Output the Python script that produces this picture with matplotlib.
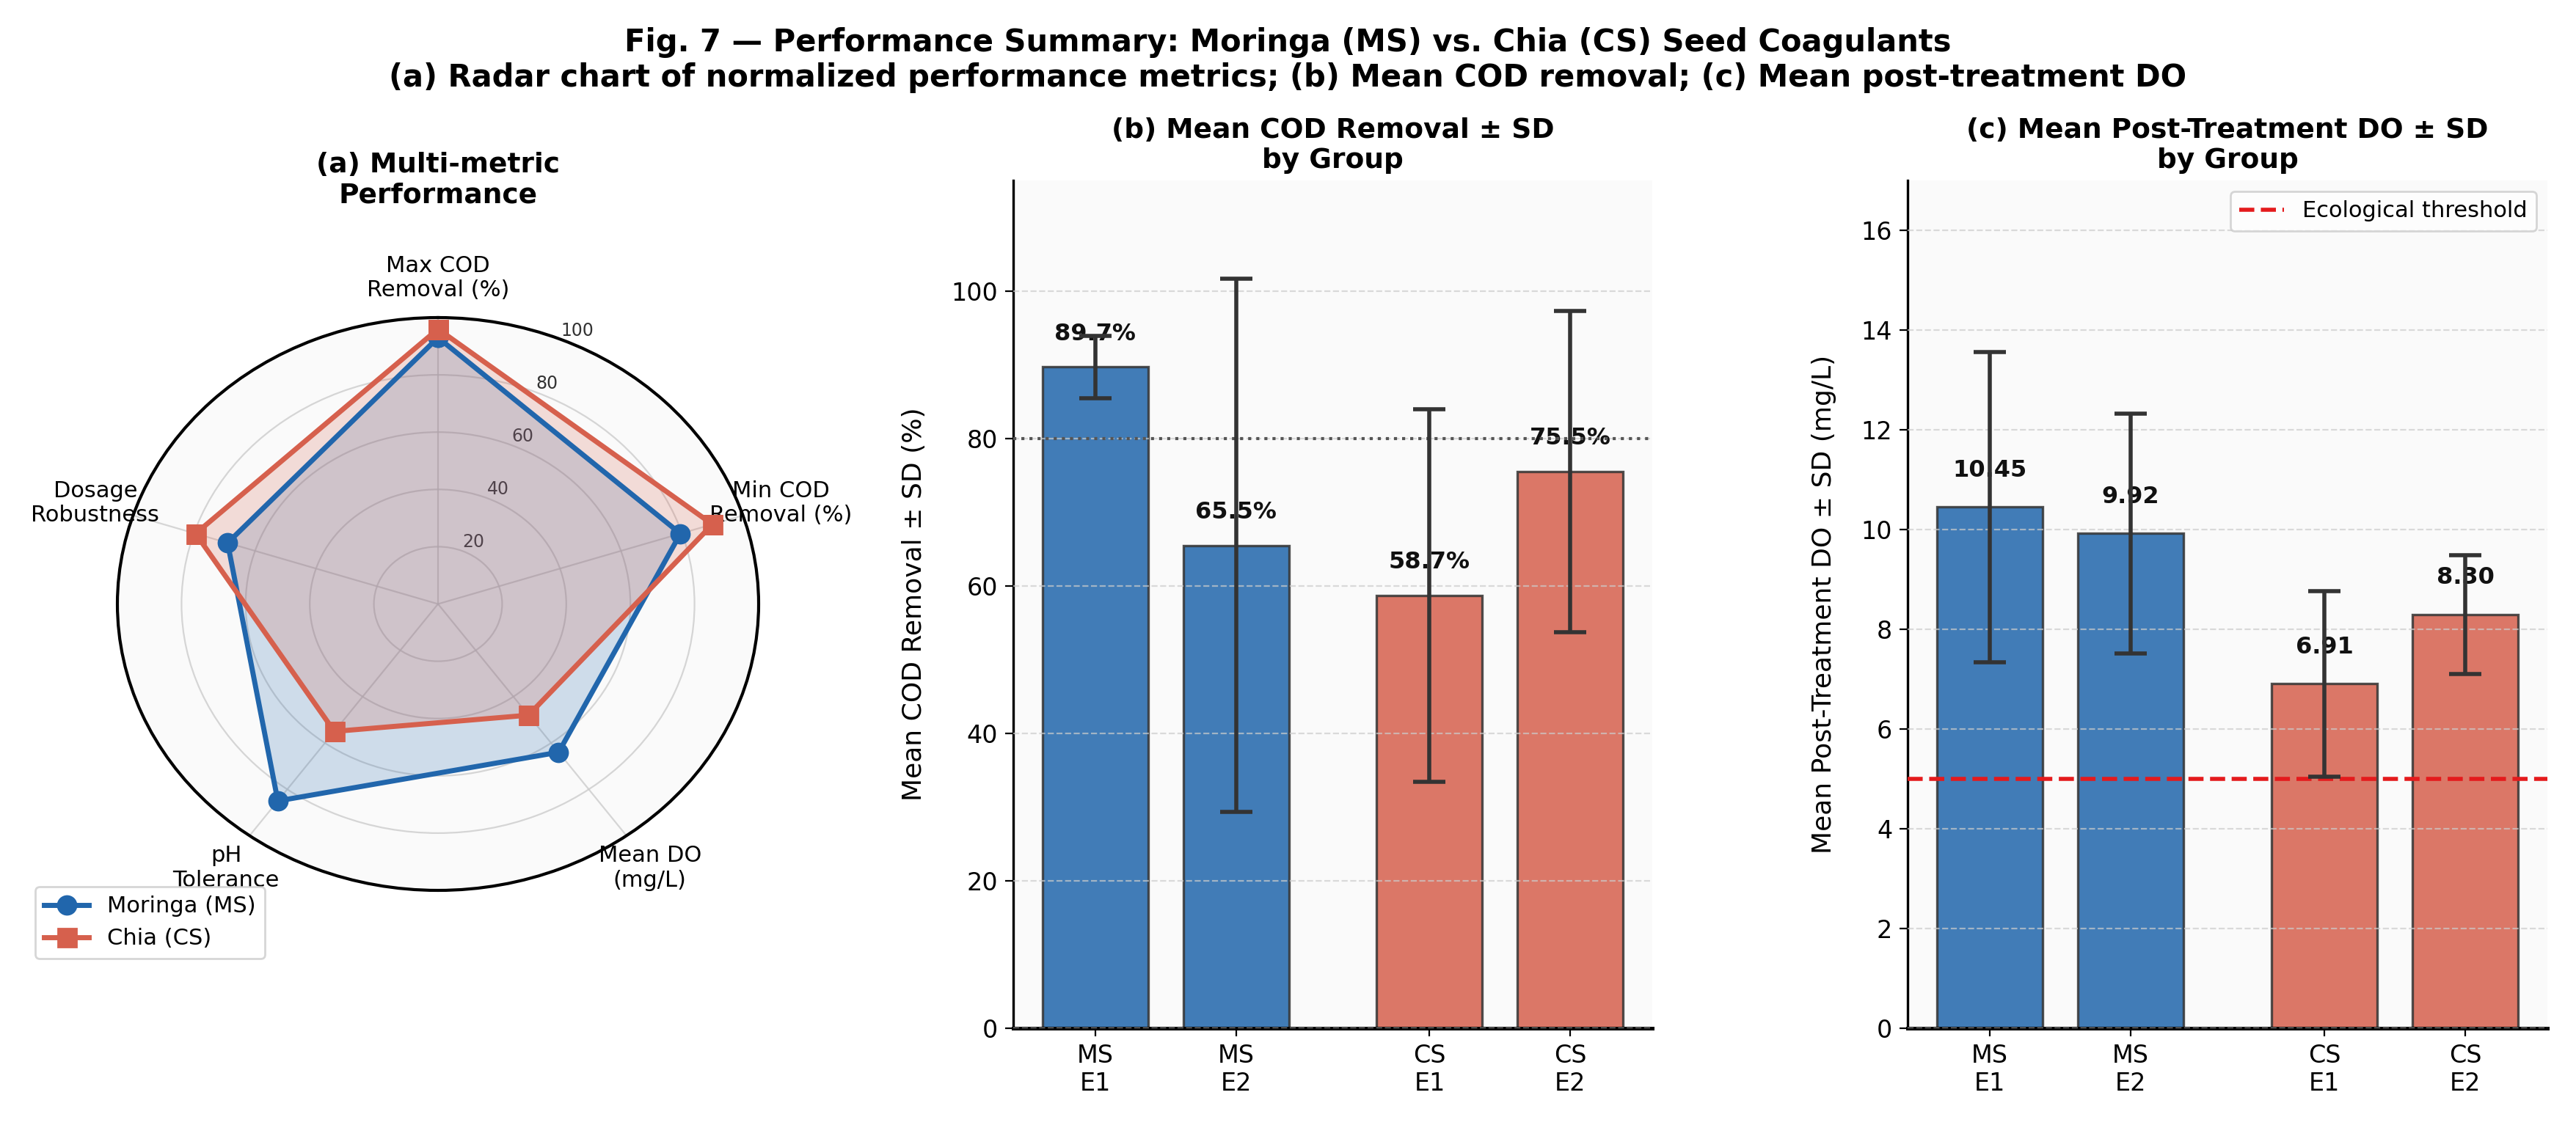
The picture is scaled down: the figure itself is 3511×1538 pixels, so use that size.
import matplotlib
matplotlib.use('Agg')
import matplotlib.pyplot as plt
import numpy as np

plt.rcParams['font.family'] = ['DejaVu Sans']

# ---------------- data ----------------
radar_metrics = ['Max COD\nRemoval (%)', 'Min COD\nRemoval (%)', 'Mean DO\n(mg/L)',
                 'pH\nTolerance', 'Dosage\nRobustness']
ms_scores = [93, 79.5, 64, 85, 69]
cs_scores = [96, 90, 48, 55, 79.5]
radar_rticks = [20, 40, 60, 80, 100]

groups = ['MS\nE1', 'MS\nE2', 'CS\nE1', 'CS\nE2']
group_pos = [0, 0.8, 1.9, 2.7]
cod_mean = [89.7, 65.5, 58.7, 75.5]
cod_sd = [4.2, 36.2, 25.3, 21.8]
do_mean = [10.45, 9.92, 6.91, 8.30]
do_sd = [3.11, 2.41, 1.86, 1.19]
cod_ref = 80
do_threshold = 5

BLUE = '#2166ac'
RED = '#d6604d'
bar_colors = [BLUE, BLUE, RED, RED]

# ---------------- figure ----------------
W, H = 3511, 1538
DPI = 200
fig = plt.figure(figsize=(W / DPI, H / DPI), dpi=DPI)
fig.patch.set_facecolor('white')

fig.suptitle('Fig. 7 — Performance Summary: Moringa (MS) vs. Chia (CS) Seed Coagulants\n'
             '(a) Radar chart of normalized performance metrics; (b) Mean COD removal; '
             '(c) Mean post-treatment DO',
             fontsize=15, fontweight='bold', y=1 - 82 / H, va='center')

# ---------------- (a) radar ----------------
axr = fig.add_axes([160 / W, 1 - 1214 / H, 874 / W, 781 / H], projection='polar')
axr.set_aspect('auto')
axr.set_theta_offset(np.pi / 2)
axr.set_theta_direction(-1)
axr.set_facecolor('#fafafa')
angles = np.linspace(0, 2 * np.pi, len(radar_metrics), endpoint=False)
closed = np.concatenate([angles, angles[:1]])
for vals, color, marker, label in [(ms_scores, BLUE, 'o', 'Moringa (MS)'),
                                   (cs_scores, RED, 's', 'Chia (CS)')]:
    v = list(vals) + [vals[0]]
    axr.plot(closed, v, color=color, lw=2.5, marker=marker, ms=9, label=label, zorder=3)
    axr.fill(closed, v, color=color, alpha=0.2, zorder=2)
axr.set_xticks(angles)
axr.set_xticklabels(radar_metrics, fontsize=11)
axr.tick_params(axis='x', pad=9)
axr.set_ylim(0, 100)
axr.set_yticks(radar_rticks)
axr.set_yticklabels([str(t) for t in radar_rticks], fontsize=8.5, color='#333333')
axr.grid(color='#cccccc', lw=0.8, alpha=0.8)
axr.spines['polar'].set_linewidth(1.5)
axr.set_title('(a) Multi-metric\nPerformance', fontsize=13.5, fontweight='bold', y=1.2, pad=0)
axr.legend(loc='upper left', bbox_to_anchor=(48 / W, 1 - 1209 / H),
           bbox_transform=fig.transFigure, borderaxespad=0, fontsize=11)


def bar_panel(ax, means, sds, offset, fmt):
    ax.set_facecolor('#fafafa')
    ax.bar(group_pos, means, width=0.6, color=bar_colors, alpha=0.85,
           edgecolor='#333333', linewidth=1.2, zorder=2)
    ax.errorbar(group_pos, means, yerr=sds, fmt='none', ecolor='#333333',
                elinewidth=2, capsize=8, capthick=2, zorder=4)
    for x, m in zip(group_pos, means):
        ax.text(x, m + offset, fmt.format(m), ha='center', va='center',
                fontsize=11.5, fontweight='bold', color='#111111', zorder=3)
    ax.set_xticks(group_pos)
    ax.set_xticklabels(groups)
    ax.tick_params(axis='both', labelsize=12, length=4)
    ax.spines['top'].set_visible(False)
    ax.spines['right'].set_visible(False)
    ax.spines['left'].set_linewidth(1.2)
    ax.spines['bottom'].set_linewidth(1.8)
    ax.yaxis.grid(True, ls='--', color='#cccccc', lw=0.8, alpha=0.7)
    ax.set_axisbelow(False)


# ---------------- (b) COD ----------------
axb = fig.add_axes([1381 / W, 1 - 1402 / H, 871 / W, 1156 / H])
bar_panel(axb, cod_mean, cod_sd, 4.5, '{:.1f}%')
axb.axhline(cod_ref, ls=':', color='#555555', lw=1.5, zorder=3)
axb.set_ylim(0, 115)
axb.set_yticks([0, 20, 40, 60, 80, 100])
axb.set_ylabel('Mean COD Removal ± SD (%)', fontsize=13, labelpad=12)
axb.set_title('(b) Mean COD Removal ± SD\nby Group', fontsize=13.5, fontweight='bold')

# ---------------- (c) DO ----------------
axc = fig.add_axes([2600 / W, 1 - 1402 / H, 872 / W, 1156 / H])
bar_panel(axc, do_mean, do_sd, 0.73, '{:.2f}')
axc.axhline(do_threshold, ls='--', color='#e41a1c', lw=2, zorder=3,
            label='Ecological threshold')
axc.set_ylim(0, 17)
axc.set_yticks([0, 2, 4, 6, 8, 10, 12, 14, 16])
axc.set_ylabel('Mean Post-Treatment DO ± SD (mg/L)', fontsize=13, labelpad=12)
axc.set_title('(c) Mean Post-Treatment DO ± SD\nby Group', fontsize=13.5, fontweight='bold')
axc.legend(loc='upper right', fontsize=11)

fig.savefig('out.png', dpi=DPI)
